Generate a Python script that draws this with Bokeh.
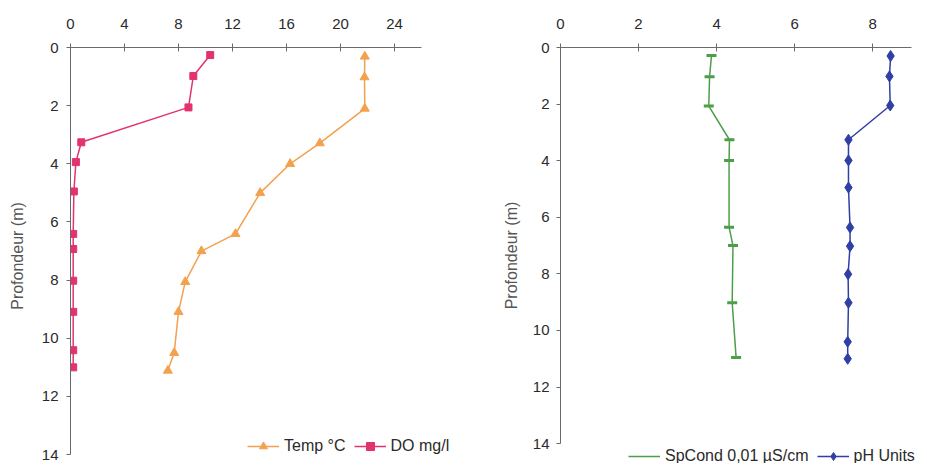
from bokeh.plotting import figure
from bokeh.models import Range1d, FixedTicker, Legend, LegendItem
from bokeh.layouts import row
from bokeh.embed import file_html
from bokeh.resources import INLINE

# ---- data ----
do_depth = [0.26, 0.98, 2.06, 3.26, 3.94, 4.95, 6.41, 6.93, 8.02, 9.09, 10.41, 11.0]
do_vals = [10.35, 9.1, 8.74, 0.8, 0.4, 0.25, 0.2, 0.2, 0.2, 0.2, 0.2, 0.2]
temp_depth = [0.31, 1.02, 2.1, 3.29, 4.0, 5.0, 6.41, 7.0, 8.06, 9.09, 10.5, 11.11]
temp_vals = [21.8, 21.78, 21.8, 18.47, 16.27, 14.05, 12.22, 9.7, 8.5, 8.0, 7.68, 7.21]
sp_depth = [0.28, 1.03, 2.07, 3.26, 3.99, 6.35, 7.0, 9.02, 10.95]
sp_vals = [3.87, 3.82, 3.8, 4.33, 4.32, 4.32, 4.42, 4.40, 4.5]
ph_depth = [0.3, 1.02, 2.05, 3.26, 3.99, 4.95, 6.36, 7.02, 8.01, 9.02, 10.4, 11.0]
ph_vals = [8.46, 8.43, 8.45, 7.38, 7.38, 7.38, 7.42, 7.42, 7.37, 7.38, 7.36, 7.36]
left_xticks = [0, 4, 8, 12, 16, 20, 24]
right_xticks = [0, 2, 4, 6, 8]
depth_ticks = [0, 2, 4, 6, 8, 10, 12, 14]
y_label = "Profondeur (m)"

FONT = "Liberation Sans"
TXT = "#2a2a2a"
AX = "#6a6a6a"

C_TEMP = "#F3A14E"
C_DO = "#E3336F"
C_SP = "#4C9E48"
C_PH = "#2F3FA6"


def make_fig(xmax, xbound, ymax, xticks, fw, fh, bl, bt, br, bb,
             tick_std, lab_std):
    p = figure(frame_width=fw, frame_height=fh,
               min_border_left=bl, min_border_top=bt,
               min_border_right=br, min_border_bottom=bb,
               x_range=Range1d(0, xmax), y_range=Range1d(ymax, 0),
               x_axis_location="above",
               output_backend="svg", toolbar_location=None)
    p.outline_line_color = None
    p.xgrid.visible = False
    p.ygrid.visible = False
    p.background_fill_color = "white"
    p.border_fill_color = "white"
    xa = p.xaxis[0]
    xa.ticker = FixedTicker(ticks=xticks)
    xa.bounds = (0, xbound)
    xa.minor_tick_line_color = None
    xa.major_tick_in = 4
    xa.major_tick_out = 4
    xa.major_label_standoff = 15
    ya = p.yaxis[0]
    ya.ticker = FixedTicker(ticks=depth_ticks)
    ya.bounds = (0, 14)
    ya.minor_tick_line_color = None
    ya.major_tick_in = 0
    ya.major_tick_out = 4
    ya.major_label_standoff = tick_std
    ya.axis_label = y_label
    ya.axis_label_standoff = lab_std
    ya.axis_label_text_font = FONT
    ya.axis_label_text_font_size = "16px"
    ya.axis_label_text_font_style = "normal"
    ya.axis_label_text_color = "#555555"
    for a in (xa, ya):
        a.axis_line_color = AX
        a.major_tick_line_color = AX
        a.major_label_text_font = FONT
        a.major_label_text_font_size = "15px"
        a.major_label_text_color = TXT
    return p


def add_legend(p, items, x, y):
    lg = Legend(items=items, location=(x, y), orientation="horizontal",
                padding=0, margin=0, spacing=8, label_standoff=5,
                glyph_width=32, glyph_height=20,
                label_text_font=FONT, label_text_font_size="16px",
                label_text_color=TXT,
                border_line_color=None, background_fill_alpha=0)
    p.add_layout(lg, "center")


# ---- left panel ----
p1 = make_fig(28.52, 26, 14.34, left_xticks, 385, 417, 70, 46, 10, 0, 8, 13)
lt = p1.line(temp_vals, temp_depth, line_color=C_TEMP, line_width=1.5)
st = p1.scatter(temp_vals, temp_depth, marker="triangle", size=9,
                fill_color=C_TEMP, line_color=C_TEMP)
ld = p1.line(do_vals, do_depth, line_color=C_DO, line_width=1.5)
sd = p1.scatter(do_vals, do_depth, marker="square", size=7,
                fill_color=C_DO, line_color=C_DO)
add_legend(p1, [LegendItem(label="Temp \u00b0C", renderers=[lt, st]),
                LegendItem(label="DO mg/l", renderers=[ld, sd])], 177, -2)

# ---- right panel ----
p2 = make_fig(9.2, 9, 14.7, right_xticks, 359, 416, 95, 47, 0, 0, 7, 10)
ls = p2.line(sp_vals, sp_depth, line_color=C_SP, line_width=1.5)
p2.scatter(sp_vals, sp_depth, marker="dash", size=10, line_width=3,
           line_color=C_SP)
lp = p2.line(ph_vals, ph_depth, line_color=C_PH, line_width=1.5)
sp = p2.scatter(ph_vals, ph_depth, marker="diamond", size=11,
                fill_color=C_PH, line_color=C_PH)
add_legend(p2, [LegendItem(label="SpCond 0,01 \u00b5S/cm", renderers=[ls]),
                LegendItem(label="pH Units", renderers=[lp, sp])], 68, -3)

layout = row(p1, p2)
open("out.html", "w").write(file_html(layout, INLINE))
